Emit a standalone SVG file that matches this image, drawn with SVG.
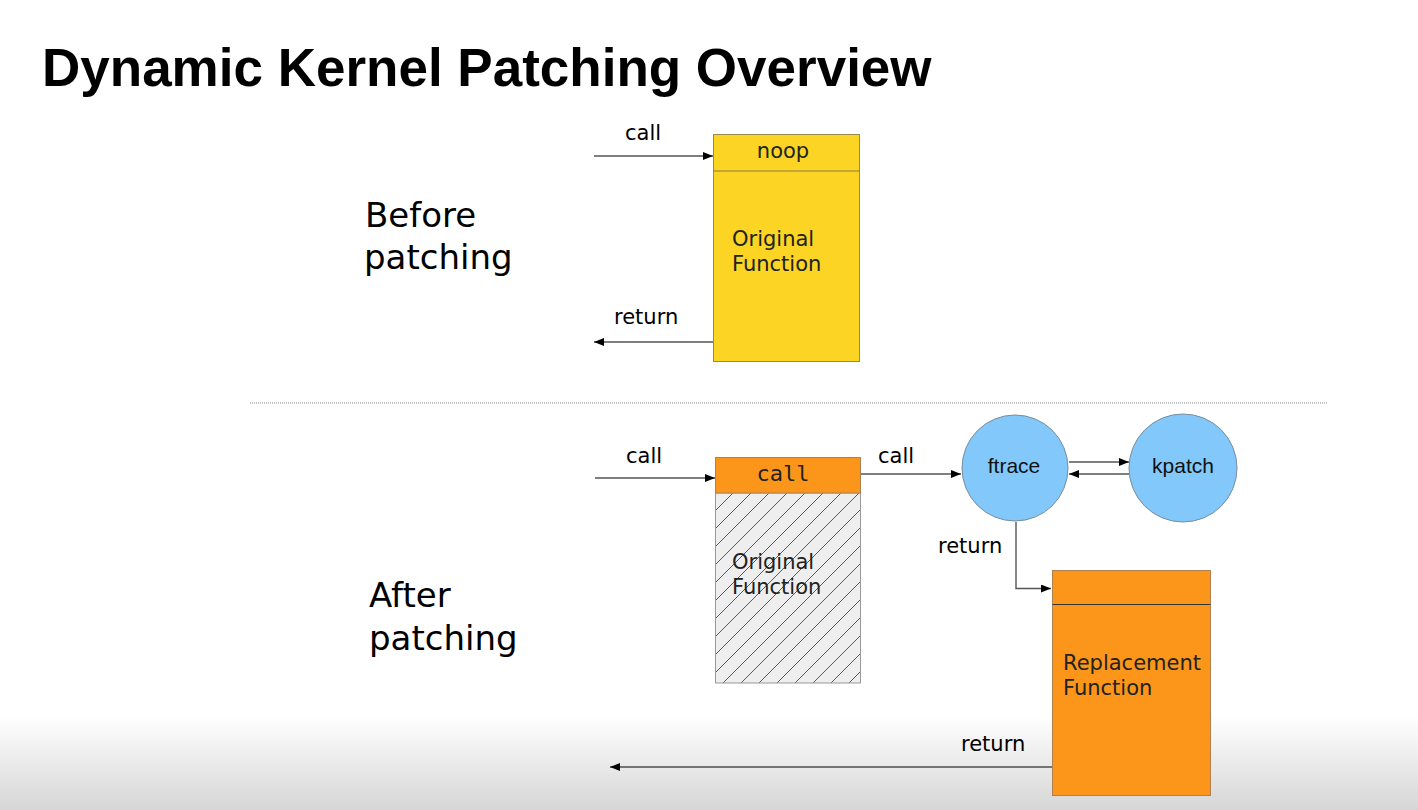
<svg xmlns="http://www.w3.org/2000/svg" width="1418" height="810" viewBox="0 0 1418 810">
<defs>
<marker id="ah" viewBox="0 0 10 8" refX="10" refY="4" markerWidth="10" markerHeight="8" markerUnits="userSpaceOnUse" orient="auto">
<path d="M0,0 L10,4 L0,8 Z" fill="#000"/>
</marker>
<pattern id="hatch" patternUnits="userSpaceOnUse" width="18" height="18" x="715" y="493">
<rect width="18" height="18" fill="#eeeeee"/>
<path d="M-4.5,22.5 L22.5,-4.5 M-4.5,4.5 L4.5,-4.5 M13.5,22.5 L22.5,13.5" stroke="#333" stroke-width="0.8"/>
</pattern>
<linearGradient id="bg" x1="0" y1="0" x2="0" y2="1">
<stop offset="0" stop-color="#ffffff"/>
<stop offset="1" stop-color="#d6d6d6"/>
</linearGradient>
<style>
.title{font-family:"Liberation Sans",Arial,sans-serif;font-weight:bold;font-size:53px;fill:#000}
.sec{font-family:"DejaVu Sans","Liberation Sans",sans-serif;font-size:34px;fill:#000}
.lbl{font-family:"DejaVu Sans","Liberation Sans",sans-serif;font-size:21px;fill:#000}
.in{font-family:"DejaVu Sans","Liberation Sans",sans-serif;font-size:21px;fill:#222}
.mono{font-family:"DejaVu Sans Mono","Liberation Mono",monospace;font-size:22px;fill:#222}
.circ{font-family:"Liberation Sans",Arial,sans-serif;font-size:21px;fill:#111}
.conn{stroke:#000;stroke-width:1.2;fill:none}
.connG{stroke:#555;stroke-width:1.4;fill:none}
</style>
</defs>
<rect width="1418" height="810" fill="#fff"/>
<rect x="0" y="715" width="1418" height="95" fill="url(#bg)"/>
<text class="title" x="42" y="86">Dynamic Kernel Patching Overview</text>
<g id="label-before">
<text class="sec" x="365" y="227">Before</text>
<text class="sec" x="364" y="269">patching</text>
</g>
<g id="label-after">
<text class="sec" x="369" y="607">After</text>
<text class="sec" x="369" y="650">patching</text>
</g>
<line x1="250" y1="403" x2="1327" y2="403" stroke="#888" stroke-width="1" stroke-dasharray="1,1"/>
<g id="orig-before">
<rect x="713.5" y="134.5" width="146" height="227" fill="#fcd424" stroke="#9a8a50" stroke-width="1"/>
<line x1="713.5" y1="171" x2="859.5" y2="171" stroke="#8a7a40" stroke-width="1"/>
<text class="in" x="783" y="158" text-anchor="middle">noop</text>
<text class="in" x="732" y="246">Original</text>
<text class="in" x="732" y="271">Function</text>
</g>
<g id="orig-after">
<rect x="715.5" y="493" width="145" height="190" fill="url(#hatch)" stroke="#999" stroke-width="1"/>
<rect x="715.5" y="457.5" width="145" height="35.5" fill="#fb961a" stroke="#b08050" stroke-width="1"/>
<text class="mono" x="783" y="481" text-anchor="middle">call</text>
<text class="in" x="732" y="569">Original</text>
<text class="in" x="732" y="594">Function</text>
</g>
<g id="ftrace">
<circle cx="1015" cy="468" r="53" fill="#83c8fb" stroke="#7a8c9a" stroke-width="1"/>
<text class="circ" x="1014" y="473" text-anchor="middle">ftrace</text>
</g>
<g id="kpatch">
<circle cx="1183" cy="468" r="54" fill="#83c8fb" stroke="#7a8c9a" stroke-width="1"/>
<text class="circ" x="1183" y="473" text-anchor="middle">kpatch</text>
</g>
<g id="replacement">
<rect x="1052.5" y="570.5" width="158" height="225" fill="#fb961a" stroke="#b08050" stroke-width="1"/>
<line x1="1052.5" y1="604.5" x2="1210.5" y2="604.5" stroke="#333" stroke-width="1"/>
<text class="in" x="1063" y="670">Replacement</text>
<text class="in" x="1063" y="695">Function</text>
</g>
<g id="connectors">
<line class="conn" x1="594" y1="156" x2="713" y2="156" marker-end="url(#ah)"/>
<text class="lbl" x="625" y="140">call</text>
<line class="conn" x1="713" y1="342" x2="594" y2="342" marker-end="url(#ah)"/>
<text class="lbl" x="614" y="324">return</text>
<line class="conn" x1="595" y1="478" x2="715" y2="478" marker-end="url(#ah)"/>
<text class="lbl" x="626" y="463">call</text>
<line class="connG" x1="861" y1="474" x2="961" y2="474" marker-end="url(#ah)"/>
<text class="lbl" x="878" y="463">call</text>
<line class="conn" x1="1069" y1="462" x2="1129" y2="462" marker-end="url(#ah)"/>
<line class="connG" x1="1129" y1="474" x2="1069" y2="474" marker-end="url(#ah)"/>
<polyline class="connG" points="1016,522 1016,588.5 1051,588.5" marker-end="url(#ah)"/>
<text class="lbl" x="938" y="553">return</text>
<line class="conn" x1="1052" y1="767" x2="610" y2="767" marker-end="url(#ah)"/>
<text class="lbl" x="961" y="751">return</text>
</g>
</svg>
